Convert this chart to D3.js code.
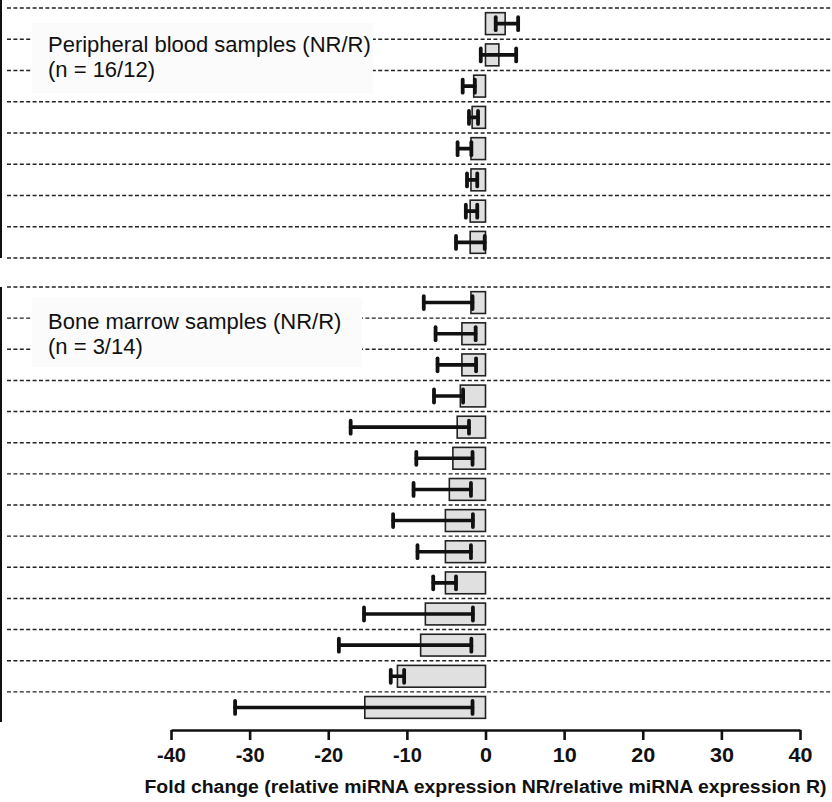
<!DOCTYPE html>
<html>
<head>
<meta charset="utf-8">
<script src="https://cdn.jsdelivr.net/npm/d3@7"></script>
<style>
  html, body { margin: 0; padding: 0; background: #fff; }
  svg { display: block; font-family: "Liberation Sans", Arial, sans-serif; }
</style>
</head>
<body>
<div id="chart"></div>
<script>
// --------------- Data ---------------
// Peripheral blood: mean fold change and error bar ends
const pbMean = [2.5, 1.7, -1.5, -1.7, -1.85, -1.85, -1.95, -1.95];
const pbLow = [1.3, -0.6, -2.9, -2.1, -3.55, -2.35, -2.5, -3.75];
const pbHigh = [4.15, 3.9, -1.35, -0.95, -1.8, -1.05, -1.05, -0.1];

// Bone marrow
const bmMean = [-1.85, -3.0, -3.0, -3.2, -3.6, -4.15, -4.6, -5.1, -5.1, -5.1, -7.65, -8.25, -11.2, -15.35];
const bmLow = [-7.85, -6.35, -6.1, -6.55, -17.15, -8.8, -9.15, -11.75, -8.65, -6.65, -15.45, -18.65, -12.05, -31.85];
const bmHigh = [-1.65, -1.25, -1.2, -2.85, -2.1, -1.65, -1.85, -1.6, -1.85, -3.75, -1.6, -1.8, -10.35, -1.65];

const xTicks = [-40, -30, -20, -10, 0, 10, 20, 30, 40];
const pbLegend = ["Peripheral blood samples (NR/R)", "(n = 16/12)"];
const bmLegend = ["Bone marrow samples (NR/R)", "(n = 3/14)"];
const xTitle = "Fold change (relative miRNA expression NR/relative miRNA expression R)";

const WIDTH = 832;
const HEIGHT = 802;
const AXIS_Y = 730;
const BAR_FILL = "#e0e0e0";
const INK = "#111";

const svg = d3
  .select("#chart")
  .append("svg")
  .attr("width", WIDTH)
  .attr("height", HEIGHT);

const x = d3.scaleLinear().domain([-40, 40]).range([171, 800]);

// --------------- Panels ---------------
// each panel: band scale over rows, dashed lines on row edges
const panels = [
  { mean: pbMean, low: pbLow, high: pbHigh, legend: pbLegend,
    range: [8, 258], line: [0, 258], lastEdge: true,
    box: [32, 23, 341, 70], base: [52, 77] },
  { mean: bmMean, low: bmLow, high: bmHigh, legend: bmLegend,
    range: [287, 723], line: [287, 722], lastEdge: false,
    box: [32, 298, 330, 69], base: [329, 354] }
];

panels.forEach(drawPanel);

function drawPanel(p) {
  const rows = d3.range(p.mean.length);
  const y = d3.scaleBand().domain(rows).range(p.range).paddingInner(0.3).paddingOuter(0.15);
  const edges = d3.range(p.mean.length + (p.lastEdge ? 1 : 0)).map(i => p.range[0] + i * (p.range[1] - p.range[0]) / p.mean.length);

  const g = svg.append("g");

  g.append("line")
    .attr("x1", 1).attr("x2", 1)
    .attr("y1", p.line[0]).attr("y2", p.line[1])
    .attr("stroke", INK).attr("stroke-width", 2);

  g.append("g")
    .selectAll("line")
    .data(edges)
    .enter()
    .append("line")
    .attr("x1", 7).attr("x2", WIDTH)
    .attr("y1", d => d).attr("y2", d => d)
    .attr("stroke", "#222")
    .attr("stroke-width", 1.4)
    .attr("stroke-dasharray", "4,2.4");

  // legend box hides the dashed lines behind it
  g.append("rect")
    .attr("x", p.box[0]).attr("y", p.box[1])
    .attr("width", p.box[2]).attr("height", p.box[3])
    .attr("fill", "#fbfbfb");

  g.append("g")
    .selectAll("text")
    .data(p.legend)
    .enter()
    .append("text")
    .attr("x", 48)
    .attr("y", (d, i) => p.base[i])
    .attr("font-size", 22)
    .attr("fill", INK)
    .text(d => d);

  const cy = i => y(i) + y.bandwidth() / 2;

  g.append("g")
    .selectAll("rect")
    .data(rows)
    .enter()
    .append("rect")
    .attr("x", i => Math.min(x(0), x(p.mean[i])))
    .attr("y", i => y(i))
    .attr("width", i => Math.abs(x(p.mean[i]) - x(0)))
    .attr("height", y.bandwidth())
    .attr("fill", BAR_FILL)
    .attr("stroke", "#222")
    .attr("stroke-width", 1.6);

  const err = g.append("g")
    .attr("stroke", INK)
    .attr("stroke-linecap", "round")
    .selectAll("g")
    .data(rows)
    .enter()
    .append("g");

  err.append("line")
    .attr("x1", i => x(p.low[i])).attr("x2", i => x(p.high[i]))
    .attr("y1", cy).attr("y2", cy)
    .attr("stroke-width", 3.6);

  err.selectAll("line.cap")
    .data(i => [p.low[i], p.high[i]].map(v => ({ v, i })))
    .enter()
    .append("line")
    .attr("class", "cap")
    .attr("x1", d => x(d.v)).attr("x2", d => x(d.v))
    .attr("y1", d => cy(d.i) - 6.5).attr("y2", d => cy(d.i) + 6.5)
    .attr("stroke-width", 3.8);
}

// --------------- Axis ---------------
const axis = svg.append("g")
  .attr("transform", `translate(0,${AXIS_Y})`)
  .call(d3.axisBottom(x).tickValues(xTicks).tickSize(10).tickSizeOuter(0).tickFormat(d3.format("d")));

axis.select(".domain").attr("stroke", INK).attr("stroke-width", 2.6);
axis.selectAll(".tick line").attr("stroke", INK).attr("stroke-width", 2.6);
axis.selectAll(".tick text")
  .attr("y", 32)
  .attr("dy", null)
  .attr("fill", INK)
  .attr("font-size", 21)
  .attr("font-weight", "bold")
  .attr("font-family", "'Liberation Sans', Arial, sans-serif")
  .attr("textLength", d => d < 0 ? 29 : (d === 0 ? 12 : 24))
  .attr("lengthAdjust", "spacingAndGlyphs")
  .text(d => d < 0 ? "-" + Math.abs(d) : d);

svg.append("text")
  .attr("x", x(0))
  .attr("y", 793)
  .attr("text-anchor", "middle")
  .attr("font-size", 19.2)
  .attr("font-weight", "bold")
  .attr("fill", INK)
  .attr("textLength", 682)
  .attr("lengthAdjust", "spacingAndGlyphs")
  .text(xTitle);
</script>
</body>
</html>
